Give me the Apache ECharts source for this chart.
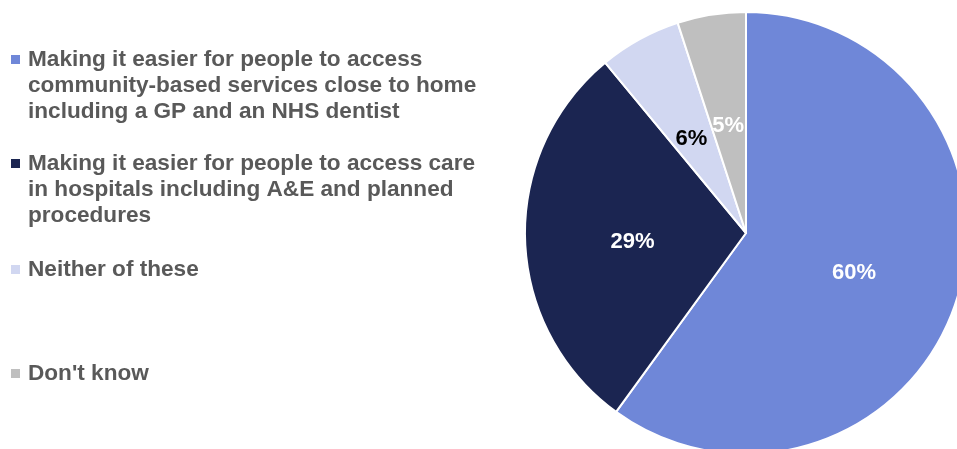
<!DOCTYPE html>
<html>
<head>
<meta charset="utf-8">
<style>
  html, body { margin: 0; padding: 0; background: #ffffff; }
  #chart { width: 957px; height: 449px; }
</style>
<script src="https://cdn.jsdelivr.net/npm/echarts@6/dist/echarts.min.js"></script>
</head>
<body>
<div id="chart"></div>
<script>
// Survey answers, in clockwise order from 12 o'clock
const categories = [
  'Making it easier for people to access\ncommunity-based services close to home\nincluding a GP and an NHS dentist',
  'Making it easier for people to access care\nin hospitals including A&E and planned\nprocedures',
  'Neither of these',
  "Don't know"
];
const shares = [60, 29, 6, 5];
const sliceColors = ['#6F87D8', '#1B2551', '#D1D7F1', '#BFBFBF'];
const labelColors = ['#ffffff', '#ffffff', '#000000', '#ffffff'];

const legendTops = [48, 152, 258, 362];
const font = 'Liberation Sans, Arial, sans-serif';

function legendFor(i) {
  return {
    data: [categories[i]],
    left: 6,
    top: legendTops[i],
    icon: 'none',
    itemWidth: 0,
    itemHeight: 0,
    itemGap: 0,
    padding: 0,
    selectedMode: false,
    formatter: function (name) {
      const lines = name.split('\n');
      return lines.map(function (ln, k) {
        return (k === 0 ? '{sq|}{gap|}' : '{pad|}') + '{t|' + ln + '}';
      }).join('\n');
    },
    textStyle: {
      rich: {
        sq: { width: 9, height: 9, backgroundColor: sliceColors[i] },
        gap: { width: 8 },
        pad: { width: 17 },
        t: {
          fontFamily: font,
          fontSize: 22.6,
          fontWeight: 'bold',
          color: '#595959',
          lineHeight: 26
        }
      }
    }
  };
}

const chart = echarts.init(document.getElementById('chart'), null, { renderer: 'canvas' });
chart.setOption({
  animation: false,
  color: sliceColors,
  legend: [0, 1, 2, 3].map(legendFor),
  series: [{
    type: 'pie',
    center: [746, 233],
    radius: [0, 221],
    startAngle: 90,
    clockwise: true,
    avoidLabelOverlap: false,
    itemStyle: { borderColor: '#ffffff', borderWidth: 2 },
    label: {
      show: true,
      position: 'inside',
      formatter: '{c}%',
      fontFamily: font,
      fontSize: 22,
      fontWeight: 'bold',
      offset: [0, 5]
    },
    labelLine: { show: false },
    emphasis: { disabled: true },
    data: categories.map(function (name, i) {
      return {
        name: name,
        value: shares[i],
        label: { color: labelColors[i] }
      };
    })
  }]
});
</script>
</body>
</html>
